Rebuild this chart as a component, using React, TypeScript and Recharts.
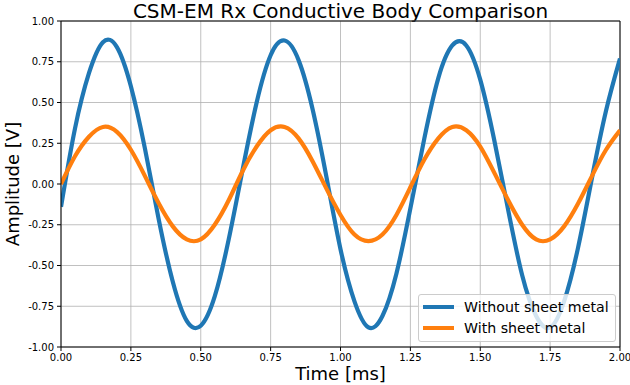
import { LineChart, Line, XAxis, YAxis, CartesianGrid, Legend, ReferenceLine } from "recharts";

const time = [
  0, 0.05, 0.1, 0.15, 0.2, 0.25, 0.3, 0.35, 0.4, 0.45, 0.5, 0.55, 0.6, 0.65, 0.7, 0.75, 0.8, 0.85, 0.9, 0.95, 1.0,
  1.05, 1.1, 1.15, 1.2, 1.25, 1.3, 1.35, 1.4, 1.45, 1.5, 1.55, 1.6, 1.65, 1.7, 1.75, 1.8, 1.85, 1.9, 1.95, 2.0,
];

const withoutSheet = [
  -0.14, 0.34, 0.68, 0.87, 0.84, 0.6, 0.22, -0.22, -0.6, -0.84, -0.87, -0.69, -0.34, 0.09, 0.5, 0.79, 0.88, 0.76, 0.46, 0.04, -0.4,
  -0.72, -0.88, -0.81, -0.55, -0.15, 0.28, 0.65, 0.85, 0.85, 0.64, 0.27, -0.16, -0.56, -0.81, -0.88, -0.72, -0.39, 0.04, 0.45, 0.77,
];

const withSheet = [
  0, 0.17, 0.29, 0.35, 0.32, 0.21, 0.05, -0.12, -0.26, -0.34, -0.34, -0.25, -0.1, 0.08, 0.23, 0.33, 0.35, 0.28, 0.14, -0.03, -0.19,
  -0.31, -0.35, -0.31, -0.19, -0.02, 0.15, 0.28, 0.35, 0.33, 0.23, 0.07, -0.1, -0.25, -0.34, -0.34, -0.26, -0.12, 0.05, 0.21, 0.33,
];

const xTicks = [0, 0.25, 0.5, 0.75, 1.0, 1.25, 1.5, 1.75, 2.0];
const yTicks = [-1, -0.75, -0.5, -0.25, 0, 0.25, 0.5, 0.75, 1];

const seriesNames = ["Without sheet metal", "With sheet metal"];

const data = time.map((t, i) => ({ t, a: withoutSheet[i], b: withSheet[i] }));

const FONT = "'DejaVu Sans', sans-serif";
const BLUE = "#1f77b4";
const ORANGE = "#ff7f0e";

function LegendBox({ payload }: any) {
  // keep the plotting order, not alphabetical
  const items = [...(payload || [])].sort(
    (p: any, q: any) => seriesNames.indexOf(p.value) - seriesNames.indexOf(q.value)
  );
  return (
    <div
      style={{
        background: "rgba(255,255,255,0.8)",
        border: "1px solid #cccccc",
        borderRadius: 3,
        padding: "1px 6px 3px 4px",
        fontFamily: FONT,
        fontSize: 14.2,
        color: "#000",
      }}
    >
      {items.map((p: any) => (
        <div key={p.value} style={{ display: "flex", alignItems: "center", height: 21 }}>
          <span style={{ display: "inline-block", width: 31, height: 4, background: p.color, marginRight: 10 }} />
          <span>{p.value}</span>
        </div>
      ))}
    </div>
  );
}

export default function App() {
  return (
    <div style={{ position: "absolute", left: 0, top: 0, width: 630, height: 385, background: "#fff" }}>
      <div
        style={{
          position: "absolute",
          top: 1,
          left: 61,
          width: 559,
          textAlign: "center",
          fontFamily: FONT,
          fontSize: 20,
          lineHeight: "20px",
          color: "#000",
        }}
      >
        CSM-EM Rx Conductive Body Comparison
      </div>
      <LineChart width={630} height={385} data={data} margin={{ top: 21, right: 10, bottom: 0, left: 0 }}>
        <CartesianGrid stroke="#b0b0b0" strokeWidth={0.8} />
        <XAxis
          dataKey="t"
          type="number"
          domain={[0, 2]}
          ticks={xTicks}
          tickFormatter={(v) => v.toFixed(2)}
          height={38}
          tickSize={4}
          tickMargin={3}
          interval={0}
          allowDataOverflow
          axisLine={{ stroke: "#000", strokeWidth: 1 }}
          tickLine={{ stroke: "#000" }}
          tick={{ fill: "#000", fontSize: 10, fontFamily: FONT }}
          label={{ value: "Time [ms]", position: "insideBottom", offset: 5, fill: "#000", fontSize: 18, fontFamily: FONT }}
        />
        <YAxis
          type="number"
          domain={[-1, 1]}
          ticks={yTicks}
          tickFormatter={(v) => v.toFixed(2)}
          width={61}
          tickSize={4}
          tickMargin={3}
          interval={0}
          allowDataOverflow
          axisLine={{ stroke: "#000", strokeWidth: 1 }}
          tickLine={{ stroke: "#000" }}
          tick={{ fill: "#000", fontSize: 10, fontFamily: FONT }}
          label={{
            content: (props: any) => {
              const vb = props.viewBox || { x: 0, y: 21, height: 326 };
              const cx = 12;
              const cy = vb.y + vb.height / 2;
              return (
                <text
                  x={cx}
                  y={cy}
                  transform={`rotate(-90 ${cx} ${cy})`}
                  textAnchor="middle"
                  dominantBaseline="central"
                  fontSize={18}
                  fontFamily={FONT}
                  fill="#000"
                >
                  Amplitude [V]
                </text>
              );
            },
          }}
        />
        <ReferenceLine y={1} stroke="#000" strokeWidth={1} />
        <ReferenceLine x={2} stroke="#000" strokeWidth={1} />
        <Line
          type="natural"
          dataKey="a"
          name={seriesNames[0]}
          stroke={BLUE}
          strokeWidth={4.2}
          dot={false}
          activeDot={false}
          isAnimationActive={false}
        />
        <Line
          type="natural"
          dataKey="b"
          name={seriesNames[1]}
          stroke={ORANGE}
          strokeWidth={4.2}
          dot={false}
          activeDot={false}
          isAnimationActive={false}
        />
        <Legend
          layout="vertical"
          align="center"
          verticalAlign="middle"
          content={<LegendBox />}
          wrapperStyle={{ left: 418, top: 294, width: "auto", height: "auto" }}
        />
      </LineChart>
    </div>
  );
}
